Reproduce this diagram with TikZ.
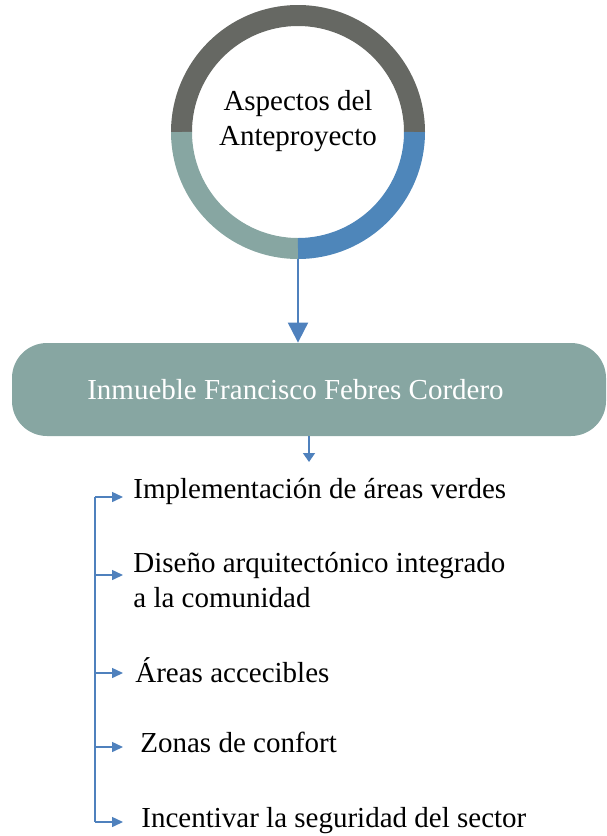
\documentclass[tikz,border=0pt]{standalone}
\usepackage{fontspec}
\setmainfont{Liberation Serif}
\usetikzlibrary{arrows.meta}
\definecolor{ringgray}{HTML}{666863}
\definecolor{ringblue}{HTML}{4E86BA}
\definecolor{ringsage}{HTML}{87A6A2}
\definecolor{linkblue}{HTML}{4F81BD}
\begin{document}
\begin{tikzpicture}[x=0.5pt,y=-0.5pt,
  every node/.style={font=\fontsize{14.5}{17.5}\selectfont},
  ringarc/.style={line width=10.5pt},
  mainbox/.style={fill=ringsage,rounded corners=17.5pt,minimum width=297pt,minimum height=46.5pt,text=white,inner sep=0pt},
  bigarrow/.style={linkblue,line width=1pt,-{Triangle[width=10pt,length=10pt]}},
  smallarrow/.style={linkblue,line width=0.75pt,-{Triangle[width=6pt,length=4.5pt]}},
  listarrow/.style={linkblue,line width=0.75pt,-{Triangle[width=5pt,length=5.5pt]}},
  item/.style={anchor=base west,inner ysep=0pt,align=left}]
\useasboundingbox (0,0) rectangle (606,836);
\node[circle,minimum size=127pt,inner sep=0pt] (ring) at (298,132) {};
\draw[ringarc,ringgray] ([shift={(0:58.25pt)}]ring.center) arc[start angle=0,end angle=180,radius=58.25pt];
\draw[ringarc,ringsage] ([shift={(180:58.25pt)}]ring.center) arc[start angle=180,end angle=270,radius=58.25pt];
\draw[ringarc,ringblue] ([shift={(270:58.25pt)}]ring.center) arc[start angle=270,end angle=360,radius=58.25pt];
\node[align=center,anchor=base] (title) at (298,145) {Aspectos del\\Anteproyecto};
\node[mainbox] (inmueble) at (309,389.5) {Inmueble Francisco Febres Cordero\kern13.5pt};
\draw[bigarrow] (ring.south) -- (ring.south |- inmueble.north);
\coordinate (split) at (309,462);
\draw[smallarrow] (inmueble.south) -- (split);
\foreach \nm/\ay/\gap/\ty/\txt in {impl/497/5/498/{Implementación de áreas verdes},
  dis/575/5/607/{Diseño arquitectónico integrado\\a la comunidad},
  are/673/6/682/{Áreas accecibles},
  zon/747/8.5/752/{Zonas de confort},
  inc/822/9/827/{Incentivar la seguridad del sector}}{
  \node[item,inner xsep=\gap pt] (\nm) at (123,\ty) {\txt};
  \coordinate (t-\nm) at (95,\ay);
  \draw[listarrow] (t-\nm) -- (t-\nm -| \nm.west);
}
\draw[linkblue,line width=0.75pt] (t-impl) -- (t-inc);
\end{tikzpicture}
\end{document}
